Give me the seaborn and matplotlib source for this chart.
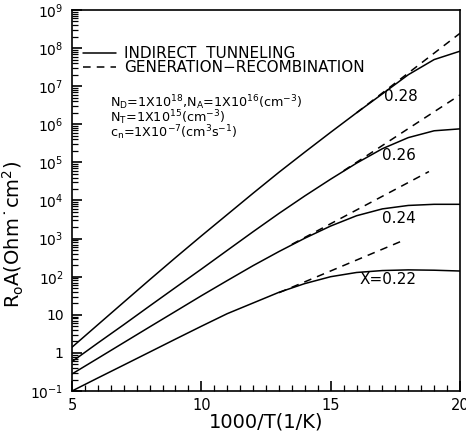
import numpy as np
import pandas as pd
import matplotlib
matplotlib.use("Agg")
import matplotlib.pyplot as plt
from matplotlib.lines import Line2D
from matplotlib.ticker import FixedLocator, MultipleLocator, LogLocator, FuncFormatter, NullFormatter
import seaborn as sns

# 1000/T grid (1/K) for the indirect-tunnelling curves
inv_temp = [5, 6, 7, 8, 9, 10, 11, 12, 13, 14, 15, 16, 17, 18, 19, 20]

# R0A (Ohm cm^2), indirect tunnelling, one list per composition x
r0a_x022 = [0.10, 0.22, 0.48, 1.05, 2.3, 5.0, 10.7, 20.4, 38.9, 66, 100, 129, 145, 151, 148, 141]
r0a_x024 = [0.28, 0.72, 1.86, 4.8, 12.3, 31.6, 79, 195, 457, 1023, 2138, 3981, 6026, 7413, 7943, 7943]
r0a_x026 = [0.59, 1.82, 5.5, 17, 52, 158, 490, 1514, 4571, 13183, 36308, 95500, 229000, 447000, 676000, 759000]
r0a_x028 = [1.41, 5.5, 21.4, 83, 316, 1175, 4266, 15500, 55000, 186000, 617000, 2.0e6, 6.3e6, 2.0e7, 5.0e7, 8.3e7]

# generation-recombination limit (straight lines on the log scale)
gr_temp_x022 = [13.0, 17.8]
gr_x022 = [38, 891]
gr_temp_x024 = [13.5, 18.8]
gr_x024 = [708, 57500]
gr_temp_x026 = [15.5, 20.0]
gr_x026 = [60300, 5.9e6]
gr_temp_x028 = [16.0, 20.0]
gr_x028 = [2.0e6, 2.45e8]

compositions = ["0.22", "0.24", "0.26", "0.28"]
curve_labels = ["X=0.22", "0.24", "0.26", "0.28"]
label_pos = [(16.1, 10 ** 1.93), (17.0, 10 ** 3.54), (17.0, 10 ** 5.17), (17.05, 10 ** 6.72)]

tunnel = pd.concat([
    pd.DataFrame({"inv_T": inv_temp, "R0A": r, "x": c})
    for r, c in zip([r0a_x022, r0a_x024, r0a_x026, r0a_x028], compositions)
])
gr = pd.concat([
    pd.DataFrame({"inv_T": t, "R0A": r, "x": c})
    for t, r, c in zip([gr_temp_x022, gr_temp_x024, gr_temp_x026, gr_temp_x028],
                       [gr_x022, gr_x024, gr_x026, gr_x028], compositions)
])

sns.set_theme(style="ticks")
plt.rcParams.update({
    "font.family": ["DejaVu Sans"],
    "axes.edgecolor": "black",
    "axes.linewidth": 1.2,
    "xtick.color": "black",
    "ytick.color": "black",
    "text.color": "black",
    "axes.labelcolor": "black",
    "mathtext.fontset": "dejavusans",
})

fig = plt.figure(figsize=(4.66, 4.36), dpi=100)
ax = fig.add_axes([72 / 466, 1 - 391 / 436, 388 / 466, 381 / 436])
ax.set_yscale("log")

dash = (0, (5, 4))
sns.lineplot(data=tunnel, x="inv_T", y="R0A", units="x", estimator=None,
             color="black", lw=1.1, sort=False, ax=ax, legend=False)
sns.lineplot(data=gr, x="inv_T", y="R0A", units="x", estimator=None,
             color="black", lw=1.1, linestyle=dash, sort=False, ax=ax, legend=False)

ax.set_xlim(5, 20)
ax.set_ylim(1e-1, 1e9)

ax.xaxis.set_major_locator(FixedLocator([5, 10, 15, 20]))
ax.xaxis.set_minor_locator(MultipleLocator(0.5))
ax.yaxis.set_major_locator(LogLocator(base=10, numticks=20))
ax.yaxis.set_minor_locator(LogLocator(base=10, subs=np.arange(2, 10), numticks=20))
ax.yaxis.set_minor_formatter(NullFormatter())


def decade_label(v, pos):
    e = int(round(np.log10(v)))
    if e == 0:
        return "1"
    if e == 1:
        return "10"
    return r"$10^{%d}$" % e


ax.yaxis.set_major_formatter(FuncFormatter(decade_label))
ax.tick_params(which="both", direction="in", top=False, right=False)
ax.tick_params(which="major", length=7, width=1.2, pad=6)
ax.tick_params(which="minor", length=4, width=0.9)
ax.tick_params(axis="y", which="major", labelsize=10)
ax.tick_params(axis="x", which="major", labelsize=10.5, pad=5)

ax.set_xlabel("1000/T(1/K)", fontsize=14, labelpad=0)
ax.set_ylabel("R$_{\\mathrm{o}}$A(Ohm\u02d9cm$^{2}$)", fontsize=14)
ax.yaxis.set_label_coords(-0.118, 0.41)

for lab, (lx, ly) in zip(curve_labels, label_pos):
    ax.text(lx, ly, lab, fontsize=11, ha="left", va="center")

handles = [Line2D([], [], color="black", lw=1.1),
           Line2D([], [], color="black", lw=1.1, linestyle=dash)]
ax.legend(handles, ["INDIRECT  TUNNELING", "GENERATION\u2212RECOMBINATION"],
          loc="upper left", bbox_to_anchor=(0.028, 0.905), frameon=False,
          fontsize=11, handlelength=2.2, handletextpad=0.5, labelspacing=-0.08,
          borderpad=0, borderaxespad=0)

params = [
    r"N$_{\mathrm{D}}$=1X10$^{18}$,N$_{\mathrm{A}}$=1X10$^{16}$(cm$^{-3}$)",
    r"N$_{\mathrm{T}}$=1X10$^{15}$(cm$^{-3}$)",
    r"c$_{\mathrm{n}}$=1X10$^{-7}$(cm$^{3}$s$^{-1}$)",
]
for i, s in enumerate(params):
    ax.text(0.098, 0.756 - 0.039 * i, s, transform=ax.transAxes,
            fontsize=9.2, ha="left", va="center")

fig.savefig("out.png", dpi=100)
